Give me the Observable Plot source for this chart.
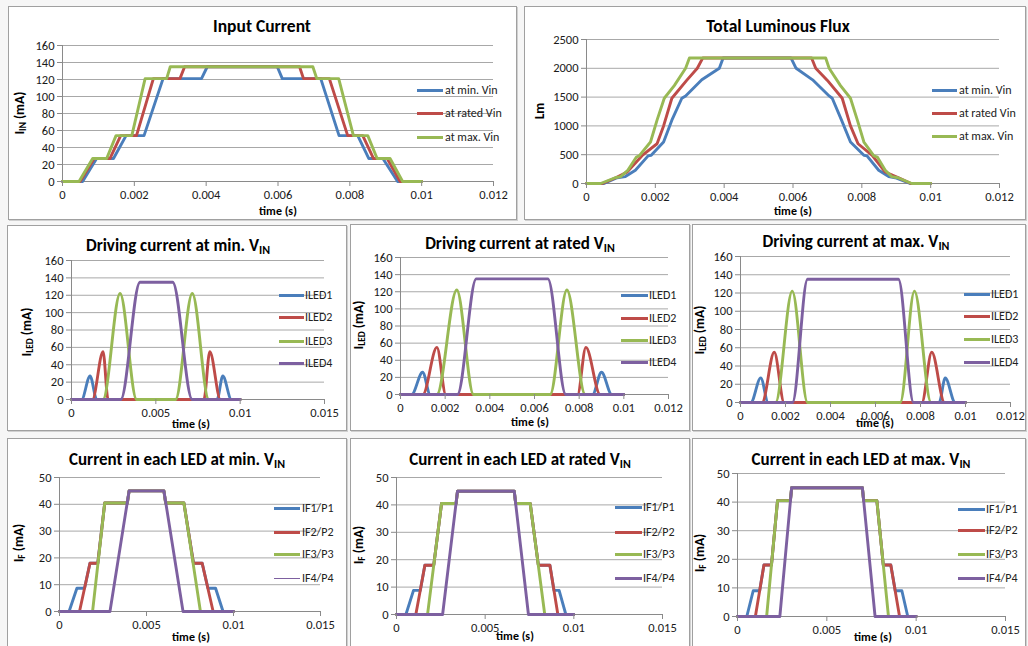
<!DOCTYPE html>
<html><head><meta charset="utf-8">
<script src="https://cdn.jsdelivr.net/npm/d3@7"></script>
<script src="https://cdn.jsdelivr.net/npm/@observablehq/plot@0.6"></script>
<style>
html,body{margin:0;padding:0;background:#fff;}
#root{position:relative;width:1028px;height:646px;overflow:hidden;background:#f6f6f6;font-family:Carlito,Lato,"Open Sans",sans-serif;color:#000;}
.panel{position:absolute;border:1px solid #a0a0a0;box-shadow:1px 1px 0 #d0d0d0;background:#fff;box-sizing:border-box;}
.abs{position:absolute;white-space:nowrap;line-height:1;}
.title{font-weight:bold;font-size:17px;transform:translate(-50%,-50%);}
.title.big{font-size:17.5px;}
.title sub,.ylab sub{font-size:0.7em;vertical-align:-0.25em;}
.xlab{font-weight:bold;font-size:12px;transform:translate(-50%,-50%);}
.ylab{font-weight:bold;font-size:13.5px;transform:translate(-50%,-50%) rotate(-90deg);}
.leg{font-size:12px;transform:translateY(-50%);color:#222;}
svg{position:absolute;overflow:visible;}
</style>
</head><body><div id="root"></div>
<script>
// ---------- colours ----------
const blue = "#4A7EBB", red = "#BE4B48", green = "#98B954", purple = "#7D60A0";

// ---------- axis ticks ----------
const ticks012 = [0, 0.002, 0.004, 0.006, 0.008, 0.01, 0.012];
const ticks015 = [0, 0.005, 0.01, 0.015];
const ticks160 = [0, 20, 40, 60, 80, 100, 120, 140, 160];
const ticks2500 = [0, 500, 1000, 1500, 2000, 2500];
const ticks50 = [0, 10, 20, 30, 40, 50];

// ---------- Input current (mA) ----------
const inMin = [[0,0],[0.00056,0],[0.00095,27],[0.00142,27],[0.00177,54],[0.00227,54],[0.0028,121],[0.00387,121],[0.00403,135],[0.00598,135],[0.00612,121],[0.00719,121],[0.0077,54],[0.00822,54],[0.00853,27],[0.00892,27],[0.00933,0],[0.01,0]];
const inRated = [[0,0],[0.00049,0],[0.00088,27],[0.00132,27],[0.00162,54],[0.00206,54],[0.00253,121],[0.00327,121],[0.0034,135],[0.0066,135],[0.00671,121],[0.00743,121],[0.00794,54],[0.00836,54],[0.00866,27],[0.00904,27],[0.0094,0],[0.01,0]];
const inMax = [[0,0],[0.00046,0],[0.00084,27],[0.00123,27],[0.00149,54],[0.00193,54],[0.0023,121],[0.0029,121],[0.003,135],[0.00697,135],[0.00708,121],[0.00769,121],[0.0081,54],[0.0085,54],[0.00876,27],[0.00912,27],[0.00947,0],[0.01,0]];

// ---------- Total luminous flux (lm) ----------
const fluxMin = [[0,0],[0.00051,0],[0.00089,100],[0.00113,120],[0.00142,230],[0.00179,480],[0.00188,490],[0.00224,720],[0.00248,1100],[0.00277,1480],[0.00288,1520],[0.00335,1800],[0.00386,2000],[0.00397,2180],[0.00594,2180],[0.00609,2000],[0.00657,1800],[0.00705,1520],[0.00714,1480],[0.00741,1100],[0.00767,720],[0.00806,490],[0.00815,480],[0.00849,230],[0.00878,120],[0.00897,100],[0.0094,0],[0.01,0]];
const fluxRated = [[0,0],[0.00046,0],[0.00085,100],[0.00118,200],[0.00162,487],[0.00205,690],[0.00224,1000],[0.00248,1480],[0.00291,1790],[0.00322,2000],[0.00338,2180],[0.00654,2180],[0.00666,2000],[0.007,1790],[0.00743,1480],[0.00767,1000],[0.00789,690],[0.0083,487],[0.00868,200],[0.00907,100],[0.00943,0],[0.01,0]];
const fluxMax = [[0,0],[0.00041,0],[0.00083,100],[0.00099,120],[0.0012,230],[0.00145,460],[0.00153,480],[0.00186,720],[0.00205,1100],[0.00226,1480],[0.00255,1700],[0.00288,2000],[0.00299,2180],[0.00695,2180],[0.00705,2000],[0.00738,1700],[0.00767,1480],[0.00787,1100],[0.00806,720],[0.00835,480],[0.00845,460],[0.00868,230],[0.00887,120],[0.00905,100],[0.00945,0],[0.01,0]];

// ---------- Driving current at min VIN (mA) ----------
const led1Min = [[0,0],[0.0006,0],[0.0011,27],[0.0015,0],[0.00863,0],[0.00897,27],[0.00948,0],[0.01,0]];
const led2Min = [[0,0],[0.00124,0],[0.00187,55],[0.00217,0],[0.00785,0],[0.0082,55],[0.00883,0],[0.01,0]];
const led3Min = [[0,0],[0.00187,0],[0.00288,122],[0.00386,0],[0.00617,0],[0.00716,122],[0.00814,0],[0.01,0]];
const led4Min = [[0,0],[0.00292,0],[0.00406,135],[0.006,135],[0.00716,0],[0.01,0]];
// ---------- Driving current at rated VIN ----------
const led1Rated = [[0,0],[0.0005,0],[0.00099,26],[0.00133,0],[0.0086,0],[0.009,26],[0.00946,0],[0.01,0]];
const led2Rated = [[0,0],[0.001,0],[0.00163,55],[0.00203,0],[0.00793,0],[0.0083,55],[0.00894,0],[0.01,0]];
const led3Rated = [[0,0],[0.00163,0],[0.00252,122],[0.00327,0],[0.0067,0],[0.00745,122],[0.00827,0],[0.01,0]];
const led4Rated = [[0,0],[0.00255,0],[0.00339,135],[0.0066,135],[0.0074,0],[0.01,0]];
// ---------- Driving current at max VIN ----------
const led1Max = [[0,0],[0.00046,0],[0.0009,27],[0.00123,0],[0.00883,0],[0.0091,27],[0.00954,0],[0.01,0]];
const led2Max = [[0,0],[0.00096,0],[0.0015,55],[0.00194,0],[0.00806,0],[0.0085,55],[0.00907,0],[0.01,0]];
const led3Max = [[0,0],[0.00156,0],[0.0023,122],[0.00298,0],[0.0071,0],[0.00773,122],[0.00847,0],[0.01,0]];
const led4Max = [[0,0],[0.00231,0],[0.00298,135],[0.00702,135],[0.00769,0],[0.01,0]];

// ---------- Current in each LED at min VIN (mA) ----------
const if1Min = [[0,0],[0.00055,0],[0.001,8.7],[0.00144,8.7],[0.00175,18],[0.0022,18],[0.0026,40.5],[0.0039,40.5],[0.004,45],[0.006,45],[0.0061,40.5],[0.00715,40.5],[0.0077,18],[0.0082,18],[0.00853,8.7],[0.00897,8.7],[0.0094,0],[0.01,0]];
const if2Min = [[0,0],[0.00115,0],[0.00175,18],[0.0022,18],[0.0026,40.5],[0.0039,40.5],[0.004,45],[0.006,45],[0.0061,40.5],[0.00715,40.5],[0.0077,18],[0.0082,18],[0.00883,0],[0.01,0]];
const if3Min = [[0,0],[0.0019,0],[0.0026,40.5],[0.0039,40.5],[0.004,45],[0.006,45],[0.0061,40.5],[0.00715,40.5],[0.0081,0],[0.01,0]];
const if4Min = [[0,0],[0.0029,0],[0.004,45],[0.006,45],[0.0071,0],[0.01,0]];
// ---------- at rated VIN ----------
const if1Rated = [[0,0],[0.00053,0],[0.00096,8.8],[0.00134,8.8],[0.0016,18],[0.0021,18],[0.00254,40.5],[0.00336,40.5],[0.00344,45],[0.00664,45],[0.00672,40.5],[0.00754,40.5],[0.008,18],[0.00865,18],[0.00888,8.8],[0.00917,8.8],[0.00955,0],[0.01,0]];
const if2Rated = [[0,0],[0.00109,0],[0.0016,18],[0.0021,18],[0.00254,40.5],[0.00336,40.5],[0.00344,45],[0.00664,45],[0.00672,40.5],[0.00754,40.5],[0.008,18],[0.00865,18],[0.0091,0],[0.01,0]];
const if3Rated = [[0,0],[0.00175,0],[0.00254,40.5],[0.00336,40.5],[0.00344,45],[0.00664,45],[0.00672,40.5],[0.00754,40.5],[0.00836,0],[0.01,0]];
const if4Rated = [[0,0],[0.0026,0],[0.00344,45],[0.00664,45],[0.00744,0],[0.01,0]];
// ---------- at max VIN ----------
const if1Max = [[0,0],[0.00052,0],[0.00088,9],[0.00124,9],[0.00148,18],[0.0019,18],[0.00224,40.5],[0.00296,40.5],[0.00303,45],[0.00699,45],[0.00706,40.5],[0.0078,40.5],[0.00816,18],[0.00858,18],[0.00883,9],[0.0092,9],[0.00953,0],[0.01,0]];
const if2Max = [[0,0],[0.001,0],[0.00148,18],[0.0019,18],[0.00224,40.5],[0.00296,40.5],[0.00303,45],[0.00699,45],[0.00706,40.5],[0.0078,40.5],[0.00816,18],[0.00858,18],[0.00907,0],[0.01,0]];
const if3Max = [[0,0],[0.00163,0],[0.00224,40.5],[0.00296,40.5],[0.00303,45],[0.00699,45],[0.00706,40.5],[0.0078,40.5],[0.00845,0],[0.01,0]];
const if4Max = [[0,0],[0.00237,0],[0.00303,45],[0.00699,45],[0.0077,0],[0.01,0]];

// ---------- legend names ----------
const vinNames = ["at min. Vin", "at rated Vin", "at max. Vin"];
const ledNames = ["ILED1", "ILED2", "ILED3", "ILED4"];
const ifNames = ["IF1/P1", "IF2/P2", "IF3/P3", "IF4/P4"];
const c3 = [blue, red, green];
const c4 = [blue, red, green, purple];

const root = document.getElementById("root");
function el(cls, html, css) {
  const d = document.createElement("div");
  d.className = "abs " + cls;
  d.innerHTML = html;
  Object.assign(d.style, css);
  root.appendChild(d);
  return d;
}
const fmtX = d => String(d);

function panel(cfg) {
  const [bx0, by0, bx1, by1] = cfg.box;
  const p = document.createElement("div");
  p.className = "panel";
  Object.assign(p.style, {left: bx0 + "px", top: by0 + "px", width: (bx1 - bx0) + "px", height: (by1 - by0) + "px"});
  root.appendChild(p);

  const ml = 44, mr = 8, mt = 8, mb = 26;
  const w = cfg.fx1 - cfg.fx0, h = cfg.fyb - cfg.fyt;
  const svg = Plot.plot({
    width: w + ml + mr, height: h + mt + mb,
    marginLeft: ml, marginRight: mr, marginTop: mt, marginBottom: mb,
    style: {fontFamily: "Carlito, Lato, 'Open Sans', sans-serif", fontSize: "12.5px", color: "#1a1a1a", background: "transparent"},
    x: {domain: cfg.xd, label: null},
    y: {domain: cfg.yd, label: null},
    marks: [
      Plot.gridY(cfg.yt, {stroke: "#a8a8a8", strokeOpacity: 1, strokeWidth: 1}),
      Plot.ruleX([cfg.xd[0]], {stroke: "#8a8a8a"}),
      Plot.ruleY([0], {stroke: "#8a8a8a"}),
      ...cfg.series.map((s, i) => Plot.line(s, {x: d => d[0], y: d => d[1], stroke: cfg.colors[i], strokeWidth: 2.9, curve: cfg.curve || "linear", strokeLinejoin: "round"})),
      Plot.axisX(cfg.xt, {tickSize: 5, tickPadding: 4, tickFormat: fmtX, stroke: "#8a8a8a", fill: "#1a1a1a", label: null}),
      Plot.axisY(cfg.yt, {tickSize: 5, tickPadding: 3, tickFormat: fmtX, stroke: "#8a8a8a", fill: "#1a1a1a", label: null})
    ]
  });
  svg.style.left = (cfg.fx0 - ml) + "px";
  svg.style.top = (cfg.fyt - mt) + "px";
  root.appendChild(svg);

  el("title" + (cfg.big ? " big" : ""), cfg.title, {left: cfg.tp[0] + "px", top: cfg.tp[1] + "px"});
  el("ylab", cfg.ylabel, {left: cfg.yl[0] + "px", top: cfg.yl[1] + "px"});
  el("xlab", "time (s)", {left: cfg.xl[0] + "px", top: cfg.xl[1] + "px"});
  cfg.names.forEach((n, i) => {
    const lw = (cfg.legW && cfg.legW[i]) || 3;
    el("", "", {left: cfg.leg[0] + "px", top: (cfg.legY[i] - lw / 2) + "px", width: (cfg.leg[1] - cfg.leg[0]) + "px", height: lw + "px", background: cfg.colors[i]});
    el("leg", n, {left: cfg.leg[2] + "px", top: cfg.legY[i] + "px"});
  });
}

panel({box: [8, 6, 517, 220], fx0: 62, fx1: 493, fyt: 45, fyb: 181, xd: [0, 0.012], xt: ticks012, yd: [0, 160], yt: ticks160,
  series: [inMin, inRated, inMax], colors: c3, names: vinNames, big: true,
  title: "Input Current", tp: [262, 27], ylabel: "I<sub>IN</sub> (mA)", yl: [21, 113], xl: [278, 211],
  leg: [417, 443, 445], legY: [90, 113, 137]});

panel({box: [524, 6, 1026, 220], fx0: 586, fx1: 999, fyt: 39, fyb: 183, xd: [0, 0.012], xt: ticks012, yd: [0, 2500], yt: ticks2500,
  series: [fluxMin, fluxRated, fluxMax], colors: c3, names: vinNames, big: true,
  title: "Total Luminous Flux", tp: [778, 27], ylabel: "Lm", yl: [540, 111], xl: [793, 211],
  leg: [932, 957, 959], legY: [90, 113, 136]});

panel({box: [7, 225, 347, 431], fx0: 71, fx1: 324, fyt: 260, fyb: 399, xd: [0, 0.015], xt: ticks015, yd: [0, 160], yt: ticks160,
  series: [led1Min, led2Min, led3Min, led4Min], colors: c4, names: ledNames, curve: "monotone-x",
  title: "Driving current at min. V<sub>IN</sub>", tp: [178, 247], ylabel: "I<sub>LED</sub> (mA)", yl: [28, 332], xl: [191, 424],
  leg: [279, 304, 305], legY: [295, 317, 341, 363]});

panel({box: [350, 224, 690, 431], fx0: 400, fx1: 668, fyt: 257, fyb: 394, xd: [0, 0.012], xt: ticks012, yd: [0, 160], yt: ticks160,
  series: [led1Rated, led2Rated, led3Rated, led4Rated], colors: c4, names: ledNames, curve: "monotone-x",
  title: "Driving current at rated V<sub>IN</sub>", tp: [520, 245], ylabel: "I<sub>LED</sub> (mA)", yl: [360, 325], xl: [530, 422],
  leg: [621, 648, 649], legY: [295, 318, 340, 362]});

panel({box: [692, 224, 1026, 431], fx0: 740, fx1: 1010, fyt: 256, fyb: 402, xd: [0, 0.012], xt: ticks012, yd: [0, 160], yt: ticks160,
  series: [led1Max, led2Max, led3Max, led4Max], colors: c4, names: ledNames, curve: "monotone-x",
  title: "Driving current at max. V<sub>IN</sub>", tp: [856, 243], ylabel: "I<sub>LED</sub> (mA)", yl: [701, 330], xl: [875, 423],
  leg: [964, 990, 991], legY: [294, 316, 339, 362]});

panel({box: [7, 438, 347, 648], fx0: 59, fx1: 320, fyt: 477, fyb: 611, xd: [0, 0.015], xt: ticks015, yd: [0, 50], yt: ticks50,
  series: [if1Min, if2Min, if3Min, if4Min], colors: c4, names: ifNames, legW: [3, 3, 3, 1],
  title: "Current in each LED at min. V<sub>IN</sub>", tp: [177, 461], ylabel: "I<sub>F</sub> (mA)", yl: [20, 543], xl: [191, 637],
  leg: [274, 300, 302], legY: [508, 532, 554, 578]});

panel({box: [350, 438, 690, 648], fx0: 396, fx1: 662, fyt: 477, fyb: 614, xd: [0, 0.015], xt: ticks015, yd: [0, 50], yt: ticks50,
  series: [if1Rated, if2Rated, if3Rated, if4Rated], colors: c4, names: ifNames,
  title: "Current in each LED at rated V<sub>IN</sub>", tp: [520, 461], ylabel: "I<sub>F</sub> (mA)", yl: [360, 545], xl: [515, 636],
  leg: [615, 642, 643], legY: [507, 532, 554, 578]});

panel({box: [692, 438, 1026, 648], fx0: 737, fx1: 1005, fyt: 473, fyb: 616, xd: [0, 0.015], xt: ticks015, yd: [0, 50], yt: ticks50,
  series: [if1Max, if2Max, if3Max, if4Max], colors: c4, names: ifNames,
  title: "Current in each LED at max. V<sub>IN</sub>", tp: [861, 461], ylabel: "I<sub>F</sub> (mA)", yl: [701, 553], xl: [873, 637],
  leg: [958, 985, 986], legY: [509, 530, 554, 578]});
</script>
</body></html>
